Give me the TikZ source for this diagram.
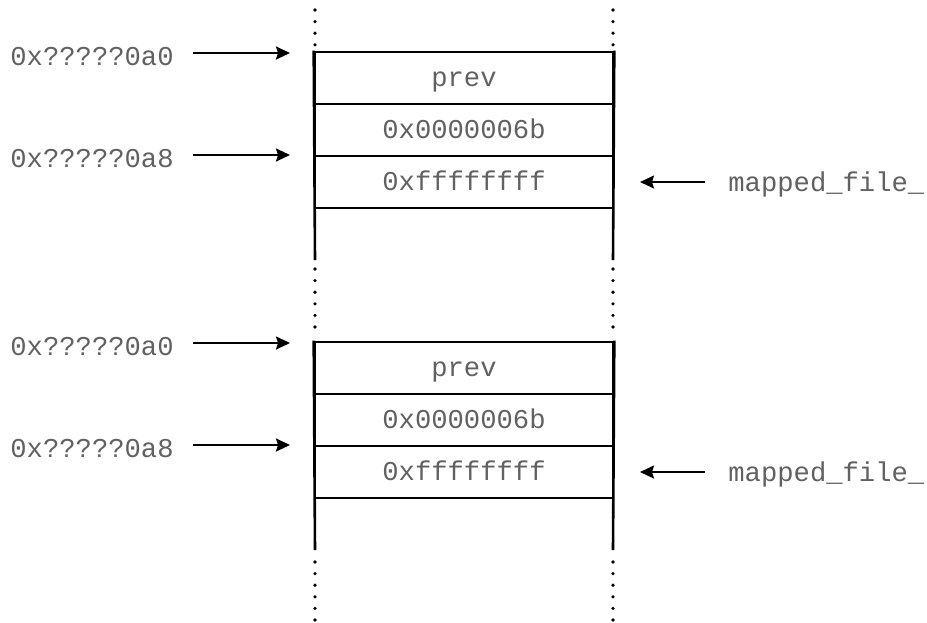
\documentclass[tikz,border=0pt]{standalone}
\usepackage{fontspec}
\setmonofont{Liberation Mono}
\usetikzlibrary{arrows.meta}
\begin{document}
\begin{tikzpicture}[x=0.5pt,y=-0.5pt,
  txt/.style={font=\ttfamily\fontsize{13.6pt}{16pt}\selectfont, text=black!62, inner sep=0pt},
  cell/.style={draw, line width=1.3pt, minimum width=149pt, minimum height=26pt, inner sep=0pt, txt, text height=0.84em, text depth=0em},
  arr/.style={-{Stealth[length=7pt,width=6.5pt,inset=1pt]}, line width=1pt},
  dots/.style={line width=1.8pt, dash pattern=on 0pt off 5.8pt, line cap=round},
  wall/.style={line width=1.3pt}]
\useasboundingbox (0,0) rectangle (927,622);
\foreach \o/\n in {0/a,290/b}{
  \begin{scope}[yshift=-\o*0.5pt]
    \node[cell] (\n r1) at (464,78) {prev};
    \node[cell] (\n r2) at (464,130) {0x0000006b};
    \node[cell] (\n r3) at (464,182) {0xffffffff};
    \coordinate (\n wl) at (315,260);
    \coordinate (\n wr) at (613,260);
    \draw[wall] (\n r1.north west) -- (\n wl);
    \draw[wall] (\n r1.north east) -- (\n wr);
    \node[txt, anchor=west] (\n l1) at (10,57) {0x?????0a0};
    \node[txt, anchor=west] (\n l2) at (10,159) {0x?????0a8};
    \node[txt, anchor=west] (\n m) at (728,184) {mapped\_file\_};
    \coordinate (\n s1) at (193,53);
    \coordinate (\n e1) at (290,53);
    \coordinate (\n s2) at (193,155);
    \coordinate (\n e2) at (290,155);
    \coordinate (\n s3) at (705,182);
    \coordinate (\n e3) at (640,182);
    \draw[arr] (\n s1) -- (\n e1);
    \draw[arr] (\n s2) -- (\n e2);
    \draw[arr] (\n s3) -- (\n e3);
  \end{scope}
}
\coordinate (d1a) at (315,10); \coordinate (d1b) at (315,47);
\coordinate (d2a) at (613,10); \coordinate (d2b) at (613,47);
\coordinate (d3a) at (315,269); \coordinate (d3b) at (315,333);
\coordinate (d4a) at (613,269); \coordinate (d4b) at (613,333);
\coordinate (d5a) at (315,562); \coordinate (d5b) at (315,622);
\coordinate (d6a) at (613,562); \coordinate (d6b) at (613,622);
\draw[dots] (d1a) -- (d1b);
\draw[dots] (d2a) -- (d2b);
\draw[dots] (d3a) -- (d3b);
\draw[dots] (d4a) -- (d4b);
\draw[dots] (d5a) -- (d5b);
\draw[dots] (d6a) -- (d6b);
\end{tikzpicture}
\end{document}
